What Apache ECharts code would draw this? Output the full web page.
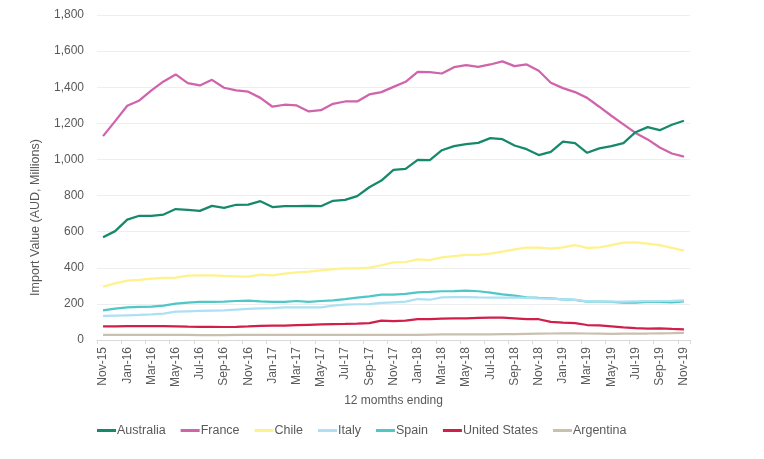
<!DOCTYPE html>
<html>
<head>
<meta charset="utf-8">
<script src="https://cdn.jsdelivr.net/npm/echarts@6/dist/echarts.min.js"></script>
<style>html,body{margin:0;padding:0;background:#fff}#c{width:764px;height:459px}</style>
</head>
<body>
<div id="c"></div>
<script>
const months = ['Nov-15','Dec-15','Jan-16','Feb-16','Mar-16','Apr-16','May-16','Jun-16','Jul-16','Aug-16','Sep-16','Oct-16','Nov-16','Dec-16','Jan-17','Feb-17','Mar-17','Apr-17','May-17','Jun-17','Jul-17','Aug-17','Sep-17','Oct-17','Nov-17','Dec-17','Jan-18','Feb-18','Mar-18','Apr-18','May-18','Jun-18','Jul-18','Aug-18','Sep-18','Oct-18','Nov-18','Dec-18','Jan-19','Feb-19','Mar-19','Apr-19','May-19','Jun-19','Jul-19','Aug-19','Sep-19','Oct-19','Nov-19'];
const australia = [569,603,667,688,688,695,725,721,715,743,732,749,750,769,736,741,741,743,741,771,776,797,846,883,942,948,998,996,1051,1074,1085,1092,1118,1112,1077,1057,1024,1042,1099,1090,1037,1061,1074,1090,1151,1179,1162,1192,1214];
const france = [1129,1212,1297,1327,1382,1432,1471,1423,1410,1441,1397,1382,1375,1341,1292,1303,1299,1266,1273,1308,1321,1321,1360,1373,1402,1430,1485,1484,1476,1511,1522,1513,1526,1543,1517,1526,1491,1425,1395,1373,1341,1292,1242,1194,1147,1111,1066,1033,1016];
const chile = [296,314,329,333,340,344,345,356,358,358,355,353,351,362,358,368,375,379,386,392,397,397,401,414,430,432,447,443,458,465,471,471,478,489,502,512,512,506,513,526,510,513,525,539,541,534,525,510,495];
const italy = [133,135,137,139,142,146,157,159,161,163,164,168,172,175,177,181,181,181,181,190,196,198,199,205,209,212,227,223,236,238,238,236,235,235,235,233,231,229,225,222,214,213,212,212,214,216,216,217,219];
const spain = [164,174,181,183,185,190,201,207,211,211,212,216,218,214,211,211,216,211,216,220,227,235,242,251,251,255,264,266,270,271,273,270,262,253,246,236,233,231,225,222,212,212,211,207,207,211,211,209,214];
const unitedStates = [76,76,77,77,77,77,76,74,73,73,72,73,75,78,80,80,82,84,86,88,89,91,94,107,105,107,116,115,118,120,120,122,124,124,120,115,115,100,96,94,83,81,76,70,66,63,65,61,59];
const argentina = [28,28,28,28,29,29,28,28,27,27,27,28,28,28,28,28,28,28,28,28,29,29,29,28,28,28,29,30,31,31,31,31,31,32,33,34,35,36,37,37,36,35,34,35,36,36,37,38,40];
const seriesNames = ['Australia','France','Chile','Italy','Spain','United States','Argentina'];
const seriesData = [australia, france, chile, italy, spain, unitedStates, argentina];
const colors = ['#16896a','#d064ac','#fff28a','#ade0f2','#4ec7c6','#d11f4a','#c9c0b0'];

const chart = echarts.init(document.getElementById('c'), null, {renderer:'canvas'});
const font = '"Liberation Sans", Arial, sans-serif';
chart.setOption({
  animation: false,
  color: colors,
  textStyle: {fontFamily: font},
  grid: {left: 97, right: 74, top: 15, bottom: 119, containLabel: false},
  legend: {
    left: 92, top: 419,
    icon: 'rect', itemWidth: 19, itemHeight: 3, itemGap: 15,
    textStyle: {color: '#595959', fontSize: 12.5, fontFamily: font, padding: [0, 0, 0, -4]},
    data: seriesNames
  },
  xAxis: {
    type: 'category', data: months, boundaryGap: true,
    name: '12 momths ending', nameLocation: 'middle', nameGap: 55,
    nameTextStyle: {color: '#595959', fontSize: 12, fontFamily: font},
    axisLine: {lineStyle: {color: '#d9d9d9', width: 1}},
    axisTick: {show: true, interval: 1, length: 4, lineStyle: {color: '#d9d9d9'}},
    axisLabel: {interval: 1, rotate: 90, color: '#595959', fontSize: 12, fontFamily: font, margin: 7}
  },
  yAxis: {
    type: 'value', min: 0, max: 1800, interval: 200,
    name: 'Import Value (AUD, Millions)', nameLocation: 'middle', nameGap: 55,
    nameTextStyle: {color: '#595959', fontSize: 12.5, fontFamily: font, padding: [0, 80, 0, 0]},
    axisLine: {show: false}, axisTick: {show: false},
    axisLabel: {color: '#595959', fontSize: 12, fontFamily: font, margin: 13,
      formatter: v => v.toLocaleString('en-US')},
    splitLine: {lineStyle: {color: '#eeeeee', width: 1}}
  },
  series: seriesNames.map((n, i) => ({
    name: n, type: 'line', data: seriesData[i], symbol: 'none', smooth: false,
    lineStyle: {width: 2.25, color: colors[i]}, z: 10 - i
  }))
});
</script>
</body>
</html>
